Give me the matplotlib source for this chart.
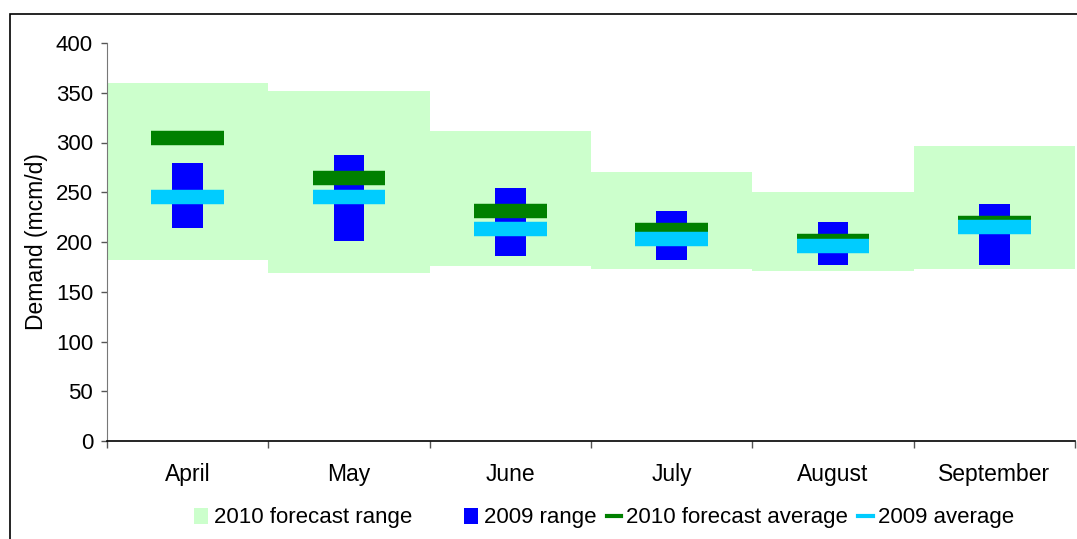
import matplotlib
matplotlib.use('Agg')
import numpy as np
import matplotlib.pyplot as plt
from matplotlib.patches import Patch, Rectangle
from matplotlib.lines import Line2D

plt.rcParams['font.family'] = ['Liberation Sans', 'DejaVu Sans']

# Monthly gas demand, mcm/d
months = ['April', 'May', 'June', 'July', 'August', 'September']
forecast_low = [182, 169, 176, 173, 171, 173]
forecast_high = [360, 352, 312, 270, 250, 296]
range09_low = [214, 201, 186, 182, 177, 177]
range09_high = [279, 287, 254, 231, 220, 238]
avg10 = [305, 264, 231, 212, 201, 219]
avg09 = [245, 245, 213, 203, 196, 215]

RANGE10_COLOR = '#ccffcc'
RANGE09_COLOR = '#0000ff'
AVG10_COLOR = '#008000'
AVG09_COLOR = '#00ccff'

W, H = 1077, 539
fig = plt.figure(figsize=(W / 100, H / 100), dpi=100)
ax = fig.add_axes([107 / W, 1 - 441 / H, (1075 - 107) / W, (441 - 43) / H])

x = np.arange(len(months))
lo10, hi10 = np.array(forecast_low), np.array(forecast_high)
lo09, hi09 = np.array(range09_low), np.array(range09_high)

ax.bar(x, hi10 - lo10, bottom=lo10, width=1.0, color=RANGE10_COLOR, zorder=1)
ax.bar(x, hi09 - lo09, bottom=lo09, width=0.19, color=RANGE09_COLOR, zorder=2)
ax.hlines(avg10, x - 0.226, x + 0.226, color=AVG10_COLOR, lw=10.4, zorder=3)
ax.hlines(avg09, x - 0.226, x + 0.226, color=AVG09_COLOR, lw=10.4, zorder=4)
for coll in ax.collections:
    coll.set_capstyle('butt')

ax.set_xlim(-0.5, len(months) - 0.5)
ax.set_ylim(0, 400)
ax.set_yticks(np.arange(0, 401, 50))
ax.tick_params(axis='y', direction='out', length=4, width=1, color='#555555',
               labelsize=16, pad=6)

# Category boundaries carry the ticks, month names sit between them
ax.set_xticks(np.arange(-0.5, len(months), 1.0))
ax.set_xticklabels([])
ax.set_xticks(x, minor=True)
ax.set_xticklabels(months, minor=True)
ax.tick_params(axis='x', which='major', direction='out', length=5, width=1, color='#555555')
ax.tick_params(axis='x', which='minor', length=0, labelsize=16.5, pad=16)

for side in ['top', 'right']:
    ax.spines[side].set_visible(False)
ax.spines['left'].set_color('#777777')
ax.spines['bottom'].set_color('black')
ax.spines['bottom'].set_linewidth(1.2)

ax.set_ylabel('Demand (mcm/d)', fontsize=16.5, labelpad=6)

# Legend: first entry on its own, remaining three packed together
h1 = [Patch(facecolor=RANGE10_COLOR, edgecolor='none')]
h2 = [Patch(facecolor=RANGE09_COLOR, edgecolor='none'),
      Line2D([], [], color=AVG10_COLOR, lw=3),
      Line2D([], [], color=AVG09_COLOR, lw=3)]
common = dict(frameon=False, fontsize=16, handlelength=0.65, handleheight=0.7,
              handletextpad=0.25, borderpad=0, borderaxespad=0, loc='center left')
fig.legend(h1, ['2010 forecast range'], bbox_to_anchor=(194 / W, 1 - 518 / H), **common)
fig.legend(h2, ['2009 range', '2010 forecast average', '2009 average'], ncol=3,
           columnspacing=0.45, bbox_to_anchor=(464 / W, 1 - 518 / H), **common)

# Chart-area frame
fig.add_artist(Rectangle((10 / W, -0.2), 1.5, 1.2 - 14 / H, transform=fig.transFigure,
                         fill=False, edgecolor='black', lw=1.2))

fig.savefig('out.png', dpi=100)
